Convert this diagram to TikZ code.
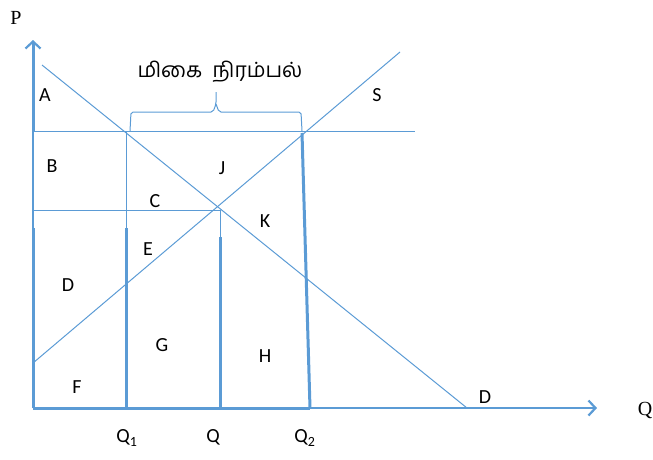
\documentclass[tikz,border=0pt]{standalone}
\usepackage{fontspec}
\setmainfont{Carlito}
\newfontfamily\tamilfont[Script=Tamil]{Hind Madurai}
\newfontfamily\axfont{Liberation Serif}
\usetikzlibrary{arrows.meta}
\definecolor{lb}{HTML}{5B9BD5}
\begin{document}
\begin{tikzpicture}[x=1pt,y=-1pt,
  thinln/.style={draw=lb,line width=1pt},
  thickln/.style={draw=lb,line width=3pt},
  lbl/.style={font=\fontsize{20}{20}\selectfont,text=black,inner sep=0pt,anchor=center},
  axlbl/.style={font=\axfont\fontsize{20}{20}\selectfont,text=black,inner sep=0pt,anchor=center}]
\useasboundingbox (0,0) rectangle (653,459);
% coordinates
\coordinate (O) at (33,408);
\coordinate (Ytop) at (33,40);
\coordinate (Xend) at (597,408);
\coordinate (Dtop) at (42,65);
\coordinate (Dbot) at (467,408);
\coordinate (Sbot) at (33,363);
\coordinate (Stop) at (400,52);
\coordinate (H1l) at (33,131);
\coordinate (H1r) at (415,131);
\coordinate (H2l) at (33,210);
\coordinate (H2r) at (220,210);
\coordinate (Q1t) at (126,131);
\coordinate (Q1m) at (126,228);
\coordinate (Q1b) at (126,408);
\coordinate (Qt) at (220,210);
\coordinate (Qm) at (220,237);
\coordinate (Qb) at (220,408);
\coordinate (Q2t) at (302,133);
\coordinate (Q2b) at (310,408);
\coordinate (Ym1) at (33,131);
\coordinate (Ym2) at (33,228);
% axes
\draw[thickln,-{Straight Barb[length=7pt,width=15pt,line width=2.2pt]}] (Ym1) -- (Ytop);
\draw[draw=lb,line width=1.6pt] (Ym1) -- (Ym2);
\draw[thickln] (O) -- (Ym2);
\draw[draw=lb,line width=3pt] (O) -- (Q2b);
\draw[draw=lb,line width=2pt,-{Straight Barb[length=7pt,width=15pt,line width=2.2pt]}] (Q2b) -- (Xend);
% curves
\draw[thinln] (Dtop) -- (Dbot);
\draw[thinln] (Sbot) -- (Stop);
% horizontal price lines
\draw[thinln] (H1l) -- (H1r);
\draw[thinln] (H2l) -- (H2r);
% verticals
\draw[thinln] (Q1t) -- (Q1m);
\draw[thickln] (Q1m) -- (Q1b);
\draw[thinln] (Qt) -- (Qm);
\draw[thickln] (Qm) -- (Qb);
\draw[thickln] (Q2t) -- (Q2b);
% brace
\coordinate (Bl) at (130,131);
\coordinate (Br) at (302,131);
\coordinate (Btip) at (216,92);
\draw[thinln,rounded corners=2pt] (Bl) -- (131,112) -- (213,112) -- (216,104) -- (Btip);
\draw[thinln,rounded corners=2pt] (Br) -- (301,112) -- (219,112) -- (216,104);
% labels
\node[font=\tamilfont\fontsize{21}{21}\selectfont,inner sep=0pt] (title) at (220,72) {மிகை\ \ நிரம்பல்};
\node[axlbl] (P) at (16,18) {P};
\node[axlbl] (Qax) at (645,410) {Q};
\node[lbl] (A) at (45,95) {A};
\node[lbl] (B) at (52,166) {B};
\node[lbl] (C) at (155,201) {C};
\node[lbl] (J) at (222,168) {J};
\node[lbl] (K) at (265,221) {K};
\node[lbl] (E) at (148,249) {E};
\node[lbl] (Dl) at (68,285) {D};
\node[lbl] (G) at (162,345) {G};
\node[lbl] (H) at (265,356) {H};
\node[lbl] (F) at (77,387) {F};
\node[lbl] (S) at (377,95) {S};
\node[lbl] (Dd) at (485,397) {D};
\node[lbl] (Q1) at (127,438) {Q\textsubscript{1}};
\node[lbl] (Q) at (213,437) {Q};
\node[lbl] (Q2) at (305,438) {Q\textsubscript{2}};
\end{tikzpicture}
\end{document}
